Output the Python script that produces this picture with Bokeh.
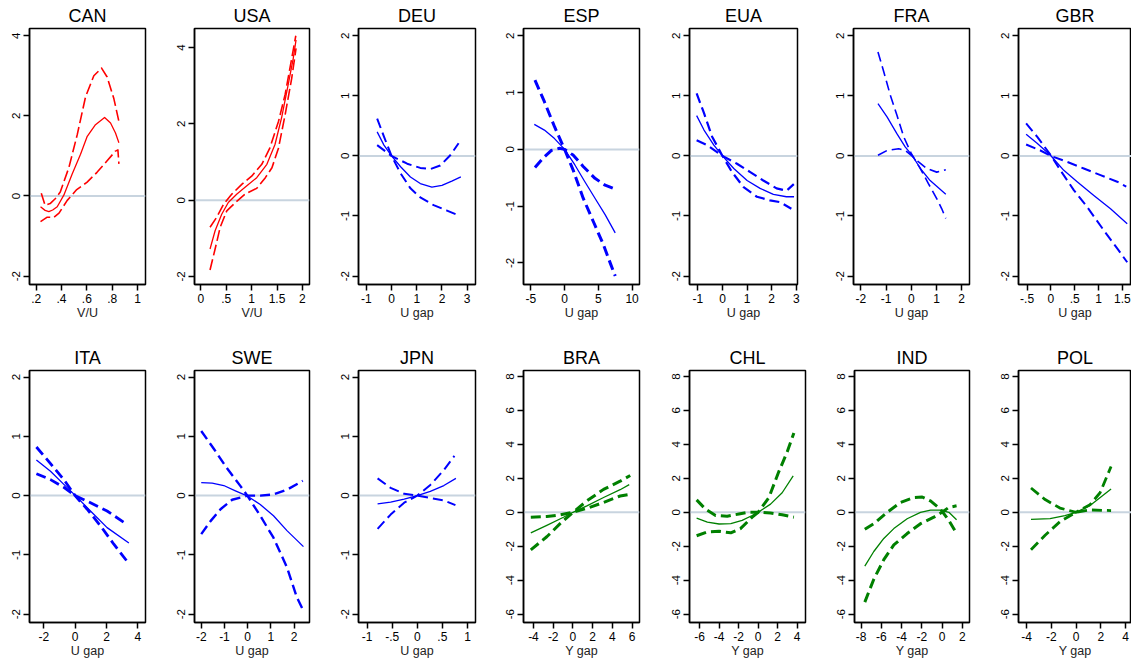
from bokeh.plotting import figure
from bokeh.layouts import row, column
from bokeh.models import Range1d, FixedTicker, Span
from bokeh.embed import file_html
from bokeh.resources import INLINE

FONT = "Liberation Sans"

# ---------------- data ----------------
top_names = ["CAN", "USA", "DEU", "ESP", "EUA", "FRA", "GBR"]
bot_names = ["ITA", "SWE", "JPN", "BRA", "CHL", "IND", "POL"]
xlabels = {"CAN": "V/U", "USA": "V/U", "DEU": "U gap", "ESP": "U gap", "EUA": "U gap",
           "FRA": "U gap", "GBR": "U gap", "ITA": "U gap", "SWE": "U gap", "JPN": "U gap",
           "BRA": "Y gap", "CHL": "Y gap", "IND": "Y gap", "POL": "Y gap"}

# x ticks and their labels
xticks = {
    "CAN": [0.2, 0.4, 0.6, 0.8, 1.0], "USA": [0.0, 0.5, 1.0, 1.5, 2.0],
    "DEU": [-1, 0, 1, 2, 3], "ESP": [-5, 0, 5, 10], "EUA": [-1, 0, 1, 2, 3],
    "FRA": [-2, -1, 0, 1, 2], "GBR": [-0.5, 0.0, 0.5, 1.0, 1.5],
    "ITA": [-2, 0, 2, 4], "SWE": [-2, -1, 0, 1, 2], "JPN": [-1.0, -0.5, 0.0, 0.5, 1.0],
    "BRA": [-4, -2, 0, 2, 4, 6], "CHL": [-6, -4, -2, 0, 2, 4],
    "IND": [-8, -6, -4, -2, 0, 2], "POL": [-4, -2, 0, 2, 4],
}
xticklabels = {
    "CAN": [".2", ".4", ".6", ".8", "1"], "USA": ["0", ".5", "1", "1.5", "2"],
    "DEU": ["-1", "0", "1", "2", "3"], "ESP": ["-5", "0", "5", "10"], "EUA": ["-1", "0", "1", "2", "3"],
    "FRA": ["-2", "-1", "0", "1", "2"], "GBR": ["-.5", "0", ".5", "1", "1.5"],
    "ITA": ["-2", "0", "2", "4"], "SWE": ["-2", "-1", "0", "1", "2"], "JPN": ["-1", "-.5", "0", ".5", "1"],
    "BRA": ["-4", "-2", "0", "2", "4", "6"], "CHL": ["-6", "-4", "-2", "0", "2", "4"],
    "IND": ["-8", "-6", "-4", "-2", "0", "2"], "POL": ["-4", "-2", "0", "2", "4"],
}
yt_small = [-2, -1, 0, 1, 2]
yt_vu = [-2, 0, 2, 4]
yt_big = [-6, -4, -2, 0, 2, 4, 6, 8]
yticks = {"CAN": yt_vu, "USA": yt_vu, "DEU": yt_small, "ESP": yt_small, "EUA": yt_small,
          "FRA": yt_small, "GBR": yt_small, "ITA": yt_small, "SWE": yt_small, "JPN": yt_small,
          "BRA": yt_big, "CHL": yt_big, "IND": yt_big, "POL": yt_big}

# axis ranges
xranges = {"CAN": (0.147, 1.063), "USA": (-0.126, 2.14), "DEU": (-1.31, 3.33), "ESP": (-6.1, 11.1),
           "EUA": (-1.34, 3.05), "FRA": (-2.29, 2.31), "GBR": (-0.68, 1.69),
           "ITA": (-2.91, 4.49), "SWE": (-2.29, 2.66), "JPN": (-1.17, 1.16), "BRA": (-5.01, 6.74),
           "CHL": (-7.03, 4.85), "IND": (-8.66, 2.72), "POL": (-4.65, 4.48)}
yranges = {"CAN": (-2.21, 4.18), "USA": (-2.21, 4.5), "DEU": (-2.14, 2.12), "ESP": (-2.38, 2.13),
           "EUA": (-2.14, 2.12), "FRA": (-2.14, 2.12), "GBR": (-2.14, 2.12),
           "ITA": (-2.14, 2.11), "SWE": (-2.14, 2.11), "JPN": (-2.14, 2.11),
           "BRA": (-6.49, 8.35), "CHL": (-6.49, 8.35), "IND": (-6.49, 8.35), "POL": (-6.49, 8.35)}

# ----- curves: estimate (solid) and two confidence bands (dashed) -----
CAN_est_x = [0.234, 0.27, 0.30, 0.33, 0.366, 0.418, 0.484, 0.55, 0.603, 0.668, 0.74, 0.787, 0.826, 0.853]
CAN_est_y = [-0.27, -0.36, -0.39, -0.35, -0.27, 0.02, 0.55, 1.04, 1.49, 1.78, 1.96, 1.82, 1.57, 1.33]
CAN_b1_x = [0.24, 0.27, 0.31, 0.35, 0.39, 0.458, 0.524, 0.59, 0.655, 0.716, 0.76, 0.813, 0.853]
CAN_b1_y = [0.07, -0.23, -0.19, -0.07, 0.10, 0.71, 1.53, 2.48, 3.00, 3.19, 2.97, 2.43, 1.86]
CAN_b2_x = [0.234, 0.287, 0.34, 0.38, 0.445, 0.52, 0.60, 0.68, 0.76, 0.826, 0.845, 0.853]
CAN_b2_y = [-0.64, -0.53, -0.53, -0.43, -0.11, 0.16, 0.34, 0.59, 0.88, 1.12, 1.15, 0.80]

USA_est_x = [0.18, 0.28, 0.41, 0.54, 0.71, 0.90, 1.10, 1.30, 1.46, 1.59, 1.72, 1.82, 1.875]
USA_est_y = [-1.28, -0.80, -0.37, -0.06, 0.16, 0.37, 0.59, 0.94, 1.46, 2.16, 3.03, 3.72, 4.20]
USA_b1_x = [0.18, 0.31, 0.45, 0.61, 0.81, 1.00, 1.20, 1.36, 1.53, 1.66, 1.79, 1.87]
USA_b1_y = [-0.71, -0.45, -0.10, 0.16, 0.42, 0.63, 0.94, 1.37, 2.07, 2.77, 3.72, 4.31]
USA_b2_x = [0.18, 0.28, 0.38, 0.51, 0.68, 0.87, 1.10, 1.27, 1.40, 1.53, 1.66, 1.79, 1.875]
USA_b2_y = [-1.83, -1.28, -0.71, -0.28, -0.06, 0.16, 0.31, 0.59, 0.85, 1.37, 2.24, 3.20, 3.98]

DEU_est_x = [-0.57, -0.30, 0.0, 0.36, 0.75, 1.14, 1.60, 2.00, 2.39, 2.75]
DEU_est_y = [0.40, 0.18, 0.0, -0.18, -0.35, -0.46, -0.52, -0.49, -0.42, -0.35]
DEU_b1_x = [-0.57, 0.0, 0.62, 1.14, 1.54, 1.93, 2.33, 2.66]
DEU_b1_y = [0.18, 0.0, -0.13, -0.20, -0.22, -0.16, 0.01, 0.21]
DEU_b2_x = [-0.57, -0.30, 0.0, 0.36, 0.75, 1.14, 1.67, 2.20, 2.72]
DEU_b2_y = [0.62, 0.32, 0.0, -0.29, -0.54, -0.69, -0.82, -0.91, -1.00]

ESP_est_x = [-4.5, -3.0, -1.5, 0.0, 1.5, 3.0, 4.5, 6.0, 7.5]
ESP_est_y = [0.44, 0.34, 0.19, 0.0, -0.27, -0.57, -0.86, -1.15, -1.47]
ESP_b1_x = [-4.4, -3.0, -1.5, 0.0, 1.25, 2.75, 4.25, 5.75, 6.85, 7.5]
ESP_b1_y = [1.22, 0.84, 0.40, 0.0, -0.36, -0.86, -1.27, -1.68, -2.03, -2.23]
ESP_b2_x = [-4.4, -3.25, -2.0, -0.75, 0.0, 1.25, 2.75, 4.5, 6.0, 7.5]
ESP_b2_y = [-0.32, -0.16, -0.02, 0.02, 0.0, -0.10, -0.30, -0.51, -0.63, -0.70]

EUA_est_x = [-1.05, -0.75, -0.35, 0.0, 0.46, 1.0, 1.53, 2.07, 2.6, 2.91]
EUA_est_y = [0.67, 0.43, 0.18, 0.0, -0.21, -0.41, -0.54, -0.64, -0.68, -0.68]
EUA_b1_x = [-1.05, -0.62, 0.0, 0.59, 1.13, 1.66, 2.2, 2.6, 2.9]
EUA_b1_y = [0.26, 0.18, 0.0, -0.13, -0.27, -0.41, -0.54, -0.58, -0.47]
EUA_b2_x = [-1.05, -0.75, -0.42, 0.0, 0.39, 0.86, 1.4, 1.93, 2.34, 2.8]
EUA_b2_y = [1.04, 0.71, 0.32, 0.0, -0.27, -0.52, -0.68, -0.74, -0.77, -0.88]

FRA_est_x = [-1.32, -0.96, -0.57, -0.24, 0.05, 0.36, 0.75, 1.37]
FRA_est_y = [0.87, 0.65, 0.37, 0.15, 0.0, -0.21, -0.41, -0.64]
FRA_b1_x = [-1.32, -1.09, -0.83, -0.57, -0.30, 0.0, 0.36, 0.68, 1.01, 1.21, 1.37]
FRA_b1_y = [1.73, 1.40, 1.01, 0.68, 0.32, 0.04, -0.21, -0.46, -0.71, -0.88, -1.04]
FRA_b2_x = [-1.32, -0.96, -0.50, -0.24, 0.0, 0.29, 0.62, 1.01, 1.37]
FRA_b2_y = [0.01, 0.09, 0.12, 0.09, 0.01, -0.10, -0.21, -0.27, -0.23]

GBR_est_x = [-0.52, -0.29, -0.01, 0.27, 0.55, 0.90, 1.25, 1.60]
GBR_est_y = [0.36, 0.21, 0.01, -0.24, -0.43, -0.66, -0.88, -1.13]
GBR_b1_x = [-0.52, -0.22, 0.0, 0.34, 0.69, 1.04, 1.39, 1.58]
GBR_b1_y = [0.19, 0.09, 0.0, -0.10, -0.21, -0.32, -0.43, -0.51]
GBR_b2_x = [-0.52, -0.29, -0.02, 0.20, 0.48, 0.76, 1.11, 1.39, 1.60]
GBR_b2_y = [0.54, 0.32, 0.03, -0.24, -0.57, -0.85, -1.24, -1.54, -1.77]

ITA_est_x = [-2.47, -1.57, -0.72, 0.02, 0.98, 2.04, 3.43]
ITA_est_y = [0.60, 0.41, 0.19, 0.0, -0.26, -0.54, -0.80]
ITA_b1_x = [-2.47, -1.57, -0.72, 0.0, 0.77, 1.62, 2.47, 3.32]
ITA_b1_y = [0.82, 0.54, 0.27, 0.0, -0.23, -0.51, -0.82, -1.11]
ITA_b2_x = [-2.47, -1.57, -0.72, 0.0, 0.98, 2.04, 3.28]
ITA_b2_y = [0.37, 0.27, 0.14, 0.0, -0.12, -0.26, -0.48]

SWE_est_x = [-2.0, -1.53, -1.03, -0.53, 0.0, 0.54, 1.11, 1.69, 2.4]
SWE_est_y = [0.22, 0.21, 0.17, 0.08, -0.01, -0.15, -0.34, -0.59, -0.86]
SWE_b1_x = [-2.0, -1.6, -1.17, -0.67, 0.0, 0.54, 1.11, 1.69, 2.37]
SWE_b1_y = [-0.65, -0.43, -0.23, -0.07, 0.0, 0.0, 0.02, 0.10, 0.25]
SWE_b2_x = [-2.0, -1.46, -0.89, -0.31, 0.0, 0.54, 1.11, 1.69, 2.11, 2.37]
SWE_b2_y = [1.09, 0.79, 0.46, 0.16, -0.01, -0.34, -0.71, -1.21, -1.71, -1.92]

JPN_est_x = [-0.79, -0.53, -0.26, 0.0, 0.26, 0.53, 0.77]
JPN_est_y = [-0.14, -0.11, -0.06, 0.0, 0.07, 0.17, 0.29]
JPN_b1_x = [-0.79, -0.53, -0.26, 0.0, 0.26, 0.53, 0.76]
JPN_b1_y = [0.29, 0.13, 0.03, 0.0, -0.04, -0.08, -0.16]
JPN_b2_x = [-0.79, -0.53, -0.26, 0.0, 0.26, 0.53, 0.74]
JPN_b2_y = [-0.56, -0.32, -0.12, 0.0, 0.18, 0.43, 0.67]

BRA_est_x = [-4.27, -2.65, -0.96, 0.0, 1.41, 3.1, 4.78, 5.7]
BRA_est_y = [-1.21, -0.77, -0.29, 0.0, 0.38, 0.87, 1.33, 1.63]
BRA_b1_x = [-4.27, -2.65, -1.3, 0.0, 1.41, 3.1, 4.78, 5.8]
BRA_b1_y = [-0.29, -0.25, -0.15, 0.0, 0.23, 0.58, 0.96, 1.06]
BRA_b2_x = [-4.27, -2.65, -1.3, 0.0, 1.41, 3.1, 4.78, 5.8]
BRA_b2_y = [-2.21, -1.44, -0.67, 0.0, 0.67, 1.35, 1.83, 2.17]

CHL_est_x = [-6.3, -5.2, -4.0, -2.8, -1.64, -0.61, 0.0, 1.27, 2.46, 3.59]
CHL_est_y = [-0.35, -0.58, -0.69, -0.67, -0.48, -0.19, 0.0, 0.48, 1.15, 2.15]
CHL_b1_x = [-6.3, -5.4, -4.36, -3.17, -1.97, -0.96, 0.0, 1.1, 2.12, 2.98, 3.66]
CHL_b1_y = [0.73, 0.19, -0.19, -0.23, -0.10, 0.0, 0.0, 0.87, 2.40, 3.56, 4.67]
CHL_b2_x = [-6.3, -5.2, -4.0, -2.8, -1.81, -0.61, 0.0, 1.27, 2.46, 3.66]
CHL_b2_y = [-1.38, -1.15, -1.12, -1.21, -0.96, -0.29, 0.0, -0.04, -0.15, -0.29]

IND_est_x = [-7.64, -6.75, -5.76, -4.77, -3.45, -2.13, -1.14, -0.15, 0.68, 1.44]
IND_est_y = [-3.17, -2.31, -1.54, -0.96, -0.38, 0.0, 0.13, 0.13, 0.0, -0.44]
IND_b1_x = [-7.64, -6.75, -5.43, -4.1, -2.79, -1.96, -1.14, -0.15, 0.68, 1.44]
IND_b1_y = [-1.0, -0.67, 0.0, 0.58, 0.87, 0.9, 0.67, 0.19, -0.48, -1.25]
IND_b2_x = [-7.64, -6.75, -5.76, -4.77, -3.45, -2.13, -0.81, 0.0, 0.68, 1.44]
IND_b2_y = [-5.29, -3.94, -2.79, -1.92, -1.25, -0.67, -0.29, 0.0, 0.29, 0.38]

POL_est_x = [-3.64, -2.1, -0.9, 0.0, 1.13, 2.83]
POL_est_y = [-0.42, -0.37, -0.19, 0.0, 0.40, 1.37]
POL_b1_x = [-3.64, -2.5, -1.3, 0.0, 1.13, 1.94, 2.83]
POL_b1_y = [1.43, 0.75, 0.25, 0.0, 0.45, 1.15, 2.70]
POL_b2_x = [-3.64, -2.5, -1.3, 0.0, 1.13, 2.83]
POL_b2_y = [-2.20, -1.35, -0.55, 0.0, 0.14, 0.10]

curves = {
    "CAN": (CAN_est_x, CAN_est_y, CAN_b1_x, CAN_b1_y, CAN_b2_x, CAN_b2_y),
    "USA": (USA_est_x, USA_est_y, USA_b1_x, USA_b1_y, USA_b2_x, USA_b2_y),
    "DEU": (DEU_est_x, DEU_est_y, DEU_b1_x, DEU_b1_y, DEU_b2_x, DEU_b2_y),
    "ESP": (ESP_est_x, ESP_est_y, ESP_b1_x, ESP_b1_y, ESP_b2_x, ESP_b2_y),
    "EUA": (EUA_est_x, EUA_est_y, EUA_b1_x, EUA_b1_y, EUA_b2_x, EUA_b2_y),
    "FRA": (FRA_est_x, FRA_est_y, FRA_b1_x, FRA_b1_y, FRA_b2_x, FRA_b2_y),
    "GBR": (GBR_est_x, GBR_est_y, GBR_b1_x, GBR_b1_y, GBR_b2_x, GBR_b2_y),
    "ITA": (ITA_est_x, ITA_est_y, ITA_b1_x, ITA_b1_y, ITA_b2_x, ITA_b2_y),
    "SWE": (SWE_est_x, SWE_est_y, SWE_b1_x, SWE_b1_y, SWE_b2_x, SWE_b2_y),
    "JPN": (JPN_est_x, JPN_est_y, JPN_b1_x, JPN_b1_y, JPN_b2_x, JPN_b2_y),
    "BRA": (BRA_est_x, BRA_est_y, BRA_b1_x, BRA_b1_y, BRA_b2_x, BRA_b2_y),
    "CHL": (CHL_est_x, CHL_est_y, CHL_b1_x, CHL_b1_y, CHL_b2_x, CHL_b2_y),
    "IND": (IND_est_x, IND_est_y, IND_b1_x, IND_b1_y, IND_b2_x, IND_b2_y),
    "POL": (POL_est_x, POL_est_y, POL_b1_x, POL_b1_y, POL_b2_x, POL_b2_y),
}

# ---------------- styles / layout ----------------
RED, BLUE, GREEN = "#ff0000", "#0000ff", "#008000"
ZERO = "#c8d4df"
color_of = {"CAN": RED, "USA": RED}
for n in ["DEU", "ESP", "EUA", "FRA", "GBR", "ITA", "SWE", "JPN"]:
    color_of[n] = BLUE
for n in ["BRA", "CHL", "IND", "POL"]:
    color_of[n] = GREEN
dash_width = {"CAN": 1.6, "USA": 1.6, "DEU": 2.0, "ESP": 3.0, "EUA": 2.2, "FRA": 1.6, "GBR": 2.0,
              "ITA": 2.8, "SWE": 2.4, "JPN": 2.0, "BRA": 3.0, "CHL": 3.0, "IND": 3.0, "POL": 2.8}
dash_pat = {"CAN": "11 4", "USA": "11 4"}
solid_width = 1.3

# per column: left border, frame width, right border (pixels)
top_left_b = [29, 23, 23, 23, 23, 23, 23]
top_frame_w = [116, 115, 117, 116, 108, 116, 113]
top_right_b = [26, 26, 25, 27, 33, 26, 0]
bot_left_b = [29, 23, 23, 23, 23, 23, 23]
bot_frame_w = [116, 115, 117, 116, 116, 115, 113]
bot_right_b = [26, 26, 25, 27, 26, 26, 0]


def make_panel(name, mbl, fw, mbr, height, mbt, mbb):
    p = figure(width=mbl + fw + mbr, height=height,
               x_range=Range1d(*xranges[name]), y_range=Range1d(*yranges[name]),
               output_backend="svg", toolbar_location=None,
               min_border_left=mbl, min_border_right=mbr,
               min_border_top=mbt, min_border_bottom=mbb, title=name)
    p.title.align = "center"
    p.title.text_font = FONT
    p.title.text_font_size = "18px"
    p.title.text_font_style = "normal"
    p.title.text_color = "black"
    p.title.standoff = 6
    p.xgrid.visible = False
    p.ygrid.visible = False
    p.outline_line_color = "black"
    p.outline_line_width = 1.5
    p.outline_line_alpha = 1.0
    p.background_fill_color = "white"
    p.border_fill_color = "white"

    p.add_layout(Span(location=0, dimension="width", line_color=ZERO, line_width=2, level="underlay"))

    for ax in (p.xaxis[0], p.yaxis[0]):
        ax.axis_line_color = "black"
        ax.axis_line_width = 1.5
        ax.major_tick_line_color = "black"
        ax.major_tick_line_width = 1.5
        ax.major_tick_in = 0
        ax.minor_tick_line_color = None
        ax.major_label_text_font = FONT
        ax.major_label_text_font_size = "12px"
        ax.major_label_text_color = "black"
    xa = p.xaxis[0]
    xa.major_tick_out = 6
    xa.major_label_standoff = 3
    xa.ticker = FixedTicker(ticks=xticks[name])
    xa.major_label_overrides = {t: s for t, s in zip(xticks[name], xticklabels[name])}
    xa.axis_label = xlabels[name]
    xa.axis_label_text_font = FONT
    xa.axis_label_text_font_size = "12.5px"
    xa.axis_label_text_font_style = "normal"
    xa.axis_label_text_color = "#222222"
    xa.axis_label_standoff = 0
    ya = p.yaxis[0]
    ya.major_tick_out = 6
    ya.major_label_standoff = 3
    ya.major_label_text_font_size = "11.5px"
    ya.ticker = FixedTicker(ticks=yticks[name])
    ya.major_label_overrides = {t: str(t) for t in yticks[name]}
    ya.major_label_orientation = "vertical"

    ex, ey, b1x, b1y, b2x, b2y = curves[name]
    col = color_of[name]
    dp = dash_pat.get(name, "10 5")
    p.line(b1x, b1y, line_color=col, line_width=dash_width[name], line_dash=dp, line_join="round")
    p.line(b2x, b2y, line_color=col, line_width=dash_width[name], line_dash=dp, line_join="round")
    p.line(ex, ey, line_color=col, line_width=solid_width, line_join="round")
    return p


row1 = [make_panel(n, l, fw, r, 342, 27, 58)
        for n, l, fw, r in zip(top_names, top_left_b, top_frame_w, top_right_b)]
row2 = [make_panel(n, l, fw, r, 318, 25, 37)
        for n, l, fw, r in zip(bot_names, bot_left_b, bot_frame_w, bot_right_b)]
layout = column(row(row1, spacing=0), row(row2, spacing=0), spacing=0)

open("out.html", "w").write(file_html(layout, INLINE))
